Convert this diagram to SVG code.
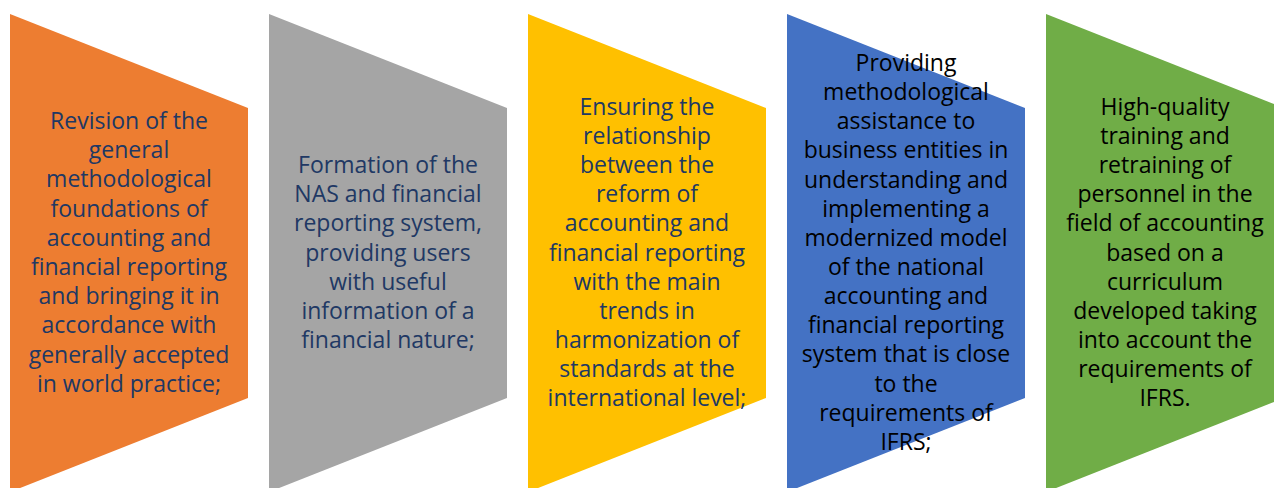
<svg xmlns="http://www.w3.org/2000/svg" width="1274" height="488" viewBox="0 0 1274 488">
<style>
text{font-family:"Open Sans",Lato,"Liberation Sans",sans-serif;font-size:23px;text-anchor:middle}
.dk{fill:#203864}
.bk{fill:#000000}
</style>
<defs>
<polygon id="shape" points="0,14 238,108 238,398 0,492"/>
</defs>
<rect width="1274" height="488" fill="#ffffff"/>
<g id="connectors"></g>
<g id="node1">
<use href="#shape" x="10" fill="#ED7D31"/>
<text class="dk" x="129" y="129"><tspan x="129">Revision of the</tspan><tspan x="129" dy="29.2">general</tspan><tspan x="129" dy="29.2">methodological</tspan><tspan x="129" dy="29.2">foundations of</tspan><tspan x="129" dy="29.2">accounting and</tspan><tspan x="129" dy="29.2">financial reporting</tspan><tspan x="129" dy="29.2">and bringing it in</tspan><tspan x="129" dy="29.2">accordance with</tspan><tspan x="129" dy="29.2">generally accepted</tspan><tspan x="129" dy="29.2">in world practice;</tspan></text>
</g>
<g id="node2">
<use href="#shape" x="269" fill="#A5A5A5"/>
<text class="dk" x="388" y="173"><tspan x="388">Formation of the</tspan><tspan x="388" dy="29.2">NAS and financial</tspan><tspan x="388" dy="29.2">reporting system,</tspan><tspan x="388" dy="29.2">providing users</tspan><tspan x="388" dy="29.2">with useful</tspan><tspan x="388" dy="29.2">information of a</tspan><tspan x="388" dy="29.2">financial nature;</tspan></text>
</g>
<g id="node3">
<use href="#shape" x="528" fill="#FFC000"/>
<text class="dk" x="647" y="115"><tspan x="647">Ensuring the</tspan><tspan x="647" dy="29.1">relationship</tspan><tspan x="647" dy="29.1">between the</tspan><tspan x="647" dy="29.1">reform of</tspan><tspan x="647" dy="29.1">accounting and</tspan><tspan x="647" dy="29.1">financial reporting</tspan><tspan x="647" dy="29.1">with the main</tspan><tspan x="647" dy="29.1">trends in</tspan><tspan x="647" dy="29.1">harmonization of</tspan><tspan x="647" dy="29.1">standards at the</tspan><tspan x="647" dy="29.1">international level;</tspan></text>
</g>
<g id="node4">
<use href="#shape" x="787" fill="#4472C4"/>
<text class="bk" x="906" y="71"><tspan x="906">Providing</tspan><tspan x="906" dy="29.15">methodological</tspan><tspan x="906" dy="29.15">assistance to</tspan><tspan x="906" dy="29.15">business entities in</tspan><tspan x="906" dy="29.15">understanding and</tspan><tspan x="906" dy="29.15">implementing a</tspan><tspan x="906" dy="29.15">modernized model</tspan><tspan x="906" dy="29.15">of the national</tspan><tspan x="906" dy="29.15">accounting and</tspan><tspan x="906" dy="29.15">financial reporting</tspan><tspan x="906" dy="29.15">system that is close</tspan><tspan x="906" dy="29.15">to the</tspan><tspan x="906" dy="29.15">requirements of</tspan><tspan x="906" dy="29.15">IFRS;</tspan></text>
</g>
<g id="node5">
<use href="#shape" x="1046" fill="#70AD47"/>
<text class="bk" x="1165" y="115"><tspan x="1165">High-quality</tspan><tspan x="1165" dy="29.1">training and</tspan><tspan x="1165" dy="29.1">retraining of</tspan><tspan x="1165" dy="29.1">personnel in the</tspan><tspan x="1165" dy="29.1">field of accounting</tspan><tspan x="1165" dy="29.1">based on a</tspan><tspan x="1165" dy="29.1">curriculum</tspan><tspan x="1165" dy="29.1">developed taking</tspan><tspan x="1165" dy="29.1">into account the</tspan><tspan x="1165" dy="29.1">requirements of</tspan><tspan x="1165" dy="29.1">IFRS.</tspan></text>
</g>
</svg>
